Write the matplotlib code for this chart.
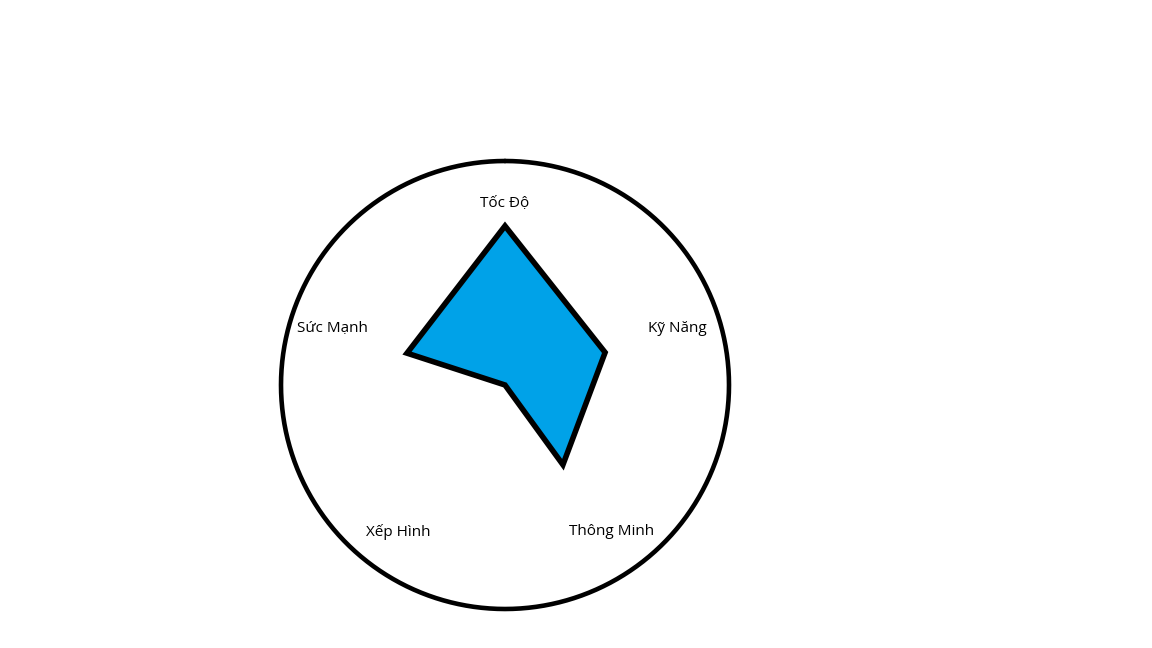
import numpy as np
import matplotlib
matplotlib.use("Agg")
import matplotlib.pyplot as plt

categories = ["Tốc Độ", "Kỹ Năng", "Thông Minh", "Xếp Hình", "Sức Mạnh"]
values = [0.71, 0.47, 0.44, 0.0, 0.46]
r_max = 1.0

plt.rcParams['font.family'] = ['Open Sans', 'DejaVu Sans']

fig = plt.figure(figsize=(11.52, 6.48), dpi=100)
fig.patch.set_facecolor('white')
W, H = 1152, 648
cx, cy, R = 505, 648 - 385, 224
ax = fig.add_axes([(cx - R) / W, (cy - R) / H, 2 * R / W, 2 * R / H], projection='polar')
ax.set_theta_offset(np.pi / 2)
ax.set_theta_direction(-1)
ax.set_ylim(0, r_max)

n = len(categories)
angles = np.linspace(0, 2 * np.pi, n, endpoint=False)
a_closed = np.concatenate([angles, angles[:1]])
v_closed = np.concatenate([values, values[:1]])

ax.fill(a_closed, v_closed, facecolor='#00A2E8', edgecolor='black',
        linewidth=4.0, joinstyle='miter', zorder=3)

for a, lab in zip(angles, categories):
    ax.text(a, 0.81 * r_max, lab, ha='center', va='center', fontsize=11, color='black')

ring = np.linspace(0, 2 * np.pi, 721)
ax.plot(ring, np.full_like(ring, r_max), color='black', linewidth=3.3,
        solid_joinstyle='round', solid_capstyle='round', clip_on=False, zorder=4)
ax.set_axis_off()

fig.savefig('out.png', dpi=100, facecolor='white')
